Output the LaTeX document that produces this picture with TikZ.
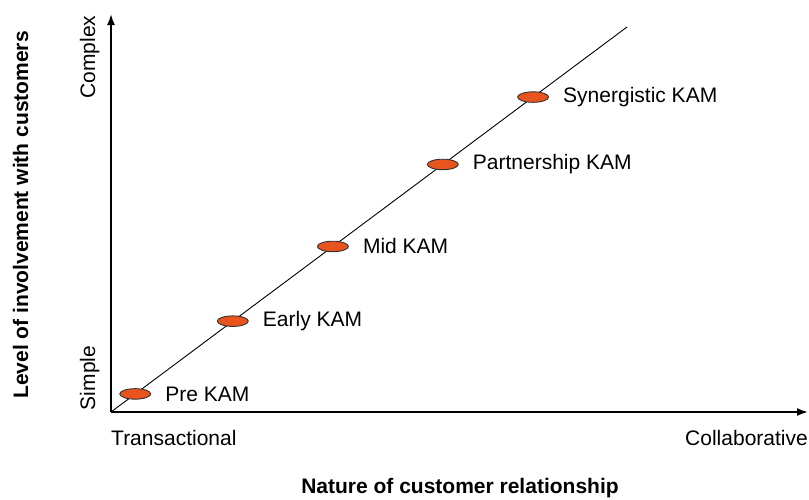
\documentclass[tikz,border=0pt]{standalone}
\usepackage{fontspec}
\setmainfont{Liberation Sans}
\usetikzlibrary{arrows.meta}
\usetikzlibrary{positioning}
\usetikzlibrary{shapes.geometric}

\definecolor{kamorange}{RGB}{232,84,30}

\tikzset{
  axis/.style={line width=1.8pt,-{Latex[length=11pt,width=8pt]}},
  kam/.style={ellipse,draw=black!80,line width=0.9pt,fill=kamorange,minimum width=31pt,minimum height=10.5pt,inner sep=0pt},
  kamlabel/.style={inner sep=0pt,anchor=west,font=\fontsize{21}{25}\selectfont},
  ticklabel/.style={inner sep=0pt,font=\fontsize{21}{25}\selectfont},
  axislabel/.style={inner sep=0pt,font=\fontsize{21}{25}\selectfont\bfseries}
}

\begin{document}
\begin{tikzpicture}[x=1pt,y=-1pt]
\useasboundingbox (0,0) rectangle (809,499);

% axis
\coordinate (O) at (111,412);
\coordinate (ytop) at (111,14);
\coordinate (xend) at (808,412);
\draw[axis] (O) -- (ytop);
\draw[axis] (O) -- (xend);

% axis ticks
\node[ticklabel,rotate=90,anchor=base] (simple) at (95,378) {Simple};
\node[ticklabel,rotate=90,anchor=base] (complex) at (95,57) {Complex};
\node[ticklabel,anchor=base west] (trans) at (111,445) {Transactional};
\node[ticklabel,anchor=base east] (collab) at (808,445) {Collaborative};

% axis titles
\node[axislabel,rotate=90,anchor=base] (ytitle) at (28,215) {Level of involvement with customers};
\node[axislabel,anchor=base] (xtitle) at (460,493) {Nature of customer relationship};

% stages
\coordinate (D) at (627,27);
\draw[line width=0.9pt] (O) -- (D)
  node[kam,pos=0.047] (pre) {}
  node[kam,pos=0.236] (early) {}
  node[kam,pos=0.430] (mid) {}
  node[kam,pos=0.643] (partner) {}
  node[kam,pos=0.818] (synergy) {};

\node[kamlabel,right=14pt of pre] {Pre KAM};
\node[kamlabel,right=14pt of early] {Early KAM};
\node[kamlabel,right=14pt of mid] {Mid KAM};
\node[kamlabel,right=14pt of partner] {Partnership KAM};
\node[kamlabel,right=14pt of synergy] {Synergistic KAM};

\end{tikzpicture}
\end{document}
